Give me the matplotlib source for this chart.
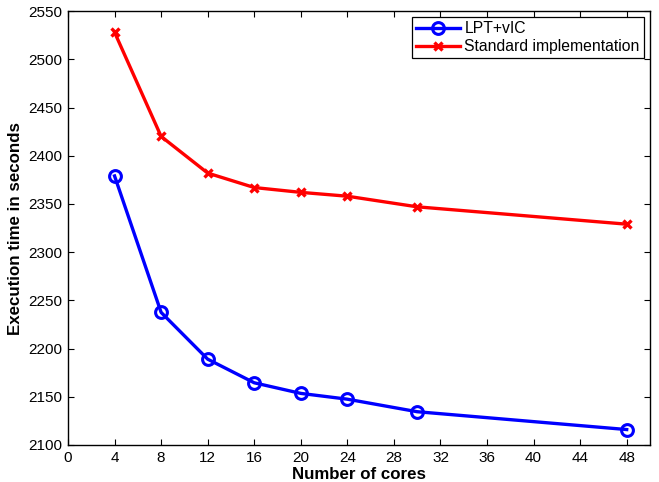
import matplotlib
matplotlib.use("Agg")
import matplotlib.pyplot as plt

# execution time vs number of cores
cores = [4, 8, 12, 16, 20, 24, 30, 48]
lpt_vic = [2379, 2237.5, 2189, 2164.5, 2153.5, 2147.5, 2134.5, 2116]
standard = [2528, 2420, 2382, 2367, 2362, 2358, 2347, 2329]

plt.rcParams['font.family'] = ['Liberation Sans', 'DejaVu Sans']

fig = plt.figure(figsize=(6.59, 4.82), dpi=100)
ax = fig.add_axes([0.1032, 0.0768, 0.8831, 0.9002])

ax.plot(cores, lpt_vic, color='blue', lw=2.4, marker='o', markersize=8.5,
        markerfacecolor='none', markeredgewidth=2.2, label='LPT+vIC')
ax.plot(cores, standard, color='red', lw=2.4, marker='x', markersize=6,
        markeredgewidth=2.4, label='Standard implementation')

ax.set_xlim(0, 50)
ax.set_ylim(2100, 2550)
ax.set_xticks(range(0, 49, 4))
ax.set_yticks(range(2100, 2551, 50))
ax.tick_params(direction='in', top=True, right=True, labelsize=11, length=4, width=0.8, pad=4)
for s in ax.spines.values():
    s.set_linewidth(1.0)

ax.set_xlabel('Number of cores', fontsize=12.2, fontweight='bold', labelpad=2)
ax.set_ylabel('Execution time in seconds', fontsize=12.2, fontweight='bold', labelpad=4)

leg = ax.legend(loc='upper right', fontsize=11.3, fancybox=False, framealpha=1,
                edgecolor='black', borderpad=0.25, handlelength=2.8,
                borderaxespad=0.4, labelspacing=0.2, handletextpad=0.3)
leg.get_frame().set_linewidth(0.9)

fig.savefig('out.png', dpi=100)
